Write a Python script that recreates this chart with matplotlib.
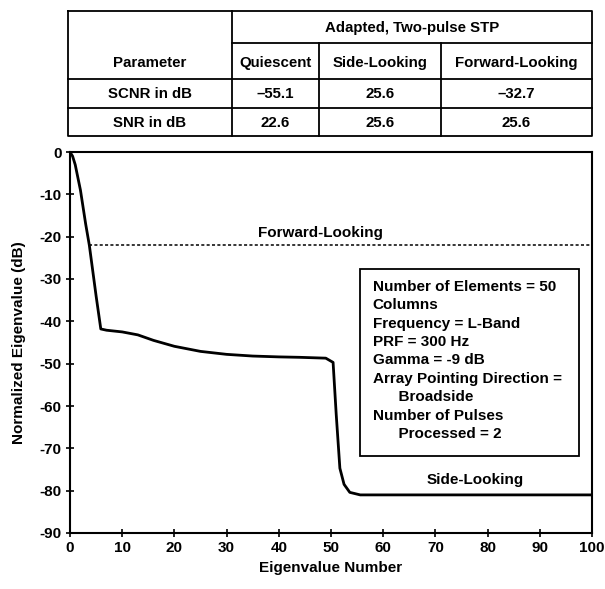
import matplotlib
matplotlib.use("Agg")
import matplotlib.pyplot as plt
from matplotlib.patches import Rectangle

plt.rcParams['font.family'] = ['Liberation Sans', 'DejaVu Sans']
plt.rcParams['font.weight'] = 'bold'

# Eigenvalue spectrum (breakpoints of the curve)
eig_num = [0, 0.5, 1, 2, 3, 3.7, 5, 5.9, 7, 10, 13, 16, 20, 25, 30, 35, 40, 44, 49, 50.4, 51.0, 51.7, 52.5, 53.6, 55.6, 100]
eig_db = [0, -1, -3, -9, -17, -22, -34, -41.8, -42.1, -42.5, -43.2, -44.5, -45.9, -47.1, -47.8, -48.2, -48.4, -48.5, -48.7, -49.7, -62, -74.7, -78.5, -80.4, -81.0, -81.0]

fwd_level = -22.0
fwd_start = 3.7

# Table contents
group_header = "Adapted, Two-pulse STP"
param_header = "Parameter"
col_names = ["Quiescent", "Side-Looking", "Forward-Looking"]
row_names = ["SCNR in dB", "SNR in dB"]
scnr = ["\u201355.1", "25.6", "\u201332.7"]
snr = ["22.6", "25.6", "25.6"]

info_lines = [
    "Number of Elements = 50",
    "Columns",
    "Frequency = L-Band",
    "PRF = 300 Hz",
    "Gamma = -9 dB",
    "Array Pointing Direction =",
    "      Broadside",
    "Number of Pulses",
    "      Processed = 2",
]

W, H = 605, 589
fig = plt.figure(figsize=(W / 100, H / 100), dpi=100)

# ---- table drawn in pixel space ----
tab = fig.add_axes([0, 0, 1, 1])
tab.set_xlim(0, W)
tab.set_ylim(H, 0)
tab.axis('off')

xl, xp, xq, xs, xr = 68, 232, 319, 441, 592
yt, ym, yh, y1, yb = 11, 43, 79, 108, 136
lw = 1.3
kw = dict(color='black', lw=lw)
tab.plot([xl, xr, xr, xl, xl], [yt, yt, yb, yb, yt], **kw)
tab.plot([xp, xp], [yt, yb], **kw)
tab.plot([xp, xr], [ym, ym], **kw)
tab.plot([xl, xr], [yh, yh], **kw)
tab.plot([xl, xr], [y1, y1], **kw)
tab.plot([xq, xq], [ym, yb], **kw)
tab.plot([xs, xs], [ym, yb], **kw)

fs_tab = 10.8
tab.text((xp + xr) / 2, (yt + ym) / 2 + 1, group_header, ha='center', va='center', fontsize=fs_tab)
tab.text((xl + xp) / 2, (ym + yh) / 2 + 2, param_header, ha='center', va='center', fontsize=fs_tab)
cx = [(xp + xq) / 2, (xq + xs) / 2, (xs + xr) / 2]
for x, name in zip(cx, col_names):
    tab.text(x, (ym + yh) / 2 + 2, name, ha='center', va='center', fontsize=fs_tab)
for yy, label, vals in [((yh + y1) / 2, row_names[0], scnr), ((y1 + yb) / 2, row_names[1], snr)]:
    tab.text((xl + xp) / 2, yy + 1, label, ha='center', va='center', fontsize=fs_tab)
    for x, v in zip(cx, vals):
        tab.text(x, yy + 1, v, ha='center', va='center', fontsize=fs_tab)

# ---- eigenvalue plot ----
ax = fig.add_axes([70 / W, 1 - 533 / H, (592 - 70) / W, (533 - 152) / H])
ax.plot(eig_num, eig_db, color='black', lw=2.0)
ax.plot([fwd_start, 100], [fwd_level, fwd_level], color='black', lw=1.1, ls=(0, (2, 1.5)))

ax.set_xlim(0, 100)
ax.set_ylim(-90, 0)
ax.set_xticks(range(0, 101, 10))
ax.set_yticks(range(-90, 1, 10))
ax.set_yticklabels(['-90', '-80', '-70', '-60', '-50', '-40', '-30', '-20', '-10', '0'])
ax.tick_params(direction='inout', length=6, width=1.2, labelsize=11, pad=3)
for lab in ax.get_xticklabels() + ax.get_yticklabels():
    lab.set_fontweight('bold')
for s in ax.spines.values():
    s.set_linewidth(1.5)

ax.set_xlabel("Eigenvalue Number", fontsize=11, fontweight='bold', labelpad=4)
ax.set_ylabel("Normalized Eigenvalue (dB)", fontsize=11, fontweight='bold', labelpad=10)

ax.text(47.9, -19.1, "Forward-Looking", ha='center', va='center', fontsize=11)
ax.text(77.6, -77.5, "Side-Looking", ha='center', va='center', fontsize=11)

# parameter box
ax.add_patch(Rectangle((55.6, -71.9), 97.5 - 55.6, 71.9 - 27.7, fc='white', ec='black', lw=1.3, zorder=3))
ax.text(58.0, -30.2, "\n".join(info_lines), ha='left', va='top', fontsize=11,
        linespacing=1.40, zorder=4)

fig.savefig("out.png", dpi=100)
